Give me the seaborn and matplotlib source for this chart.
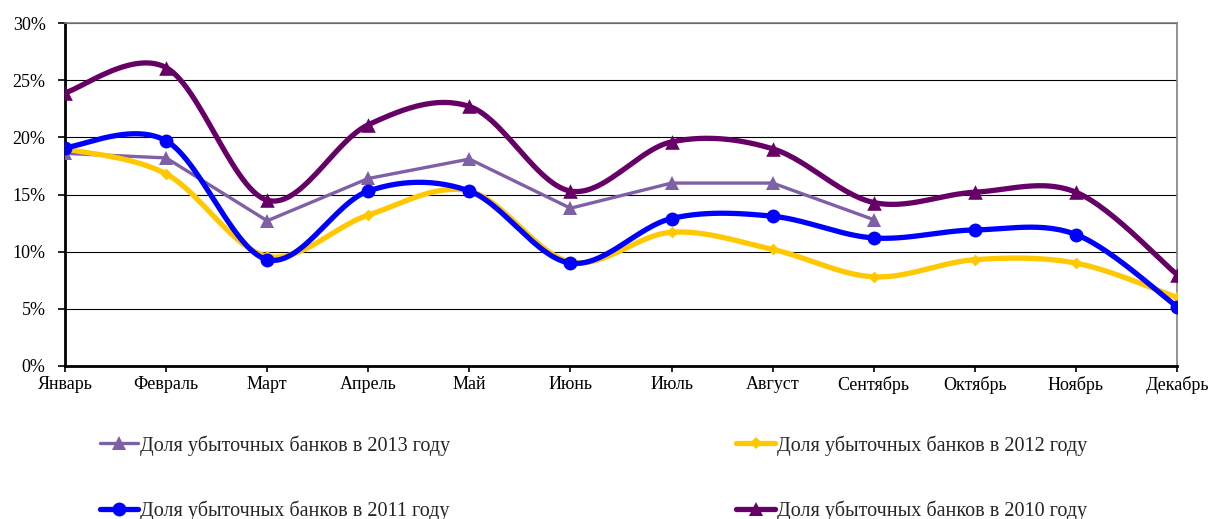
import numpy as np
import matplotlib
matplotlib.use("Agg")
import matplotlib.pyplot as plt
from matplotlib.lines import Line2D
from matplotlib.ticker import PercentFormatter
import seaborn as sns
import pandas as pd

# Months of the year
months = ["Январь", "Февраль", "Март", "Апрель", "Май", "Июнь", "Июль",
          "Август", "Сентябрь", "Октябрь", "Ноябрь", "Декабрь"]

# Share of loss-making banks, % by month
share_2013 = [18.6, 18.2, 12.7, 16.4, 18.1, 13.8, 16.0, 16.0, 12.8]
share_2012 = [19.0, 16.8, 9.6, 13.2, 15.3, 9.1, 11.7, 10.2, 7.8, 9.3, 9.0, 6.0]
share_2011 = [19.1, 19.7, 9.3, 15.3, 15.3, 9.0, 12.9, 13.1, 11.2, 11.9, 11.5, 5.2]
share_2010 = [23.9, 26.1, 14.5, 21.1, 22.7, 15.3, 19.6, 19.0, 14.3, 15.2, 15.2, 8.0]

labels = {
    "2013": "Доля убыточных банков в 2013 году",
    "2012": "Доля убыточных банков в 2012 году",
    "2011": "Доля убыточных банков в 2011 году",
    "2010": "Доля убыточных банков в 2010 году",
}

sns.set_theme(style="white")
plt.rcParams["font.family"] = ["Liberation Serif", "DejaVu Serif"]
plt.rcParams["font.size"] = 13


def smooth_curve(y, steps=30):
    """Cubic Bezier smoothing through every point (spreadsheet-style)."""
    y = np.asarray(y, dtype=float)
    x = np.arange(len(y), dtype=float)
    pts = np.column_stack([x, y])
    ext = np.vstack([pts[0], pts, pts[-1]])
    out = []
    t = np.linspace(0, 1, steps)[:, None]
    for i in range(len(pts) - 1):
        p0 = ext[i + 1]
        p3 = ext[i + 2]
        c1 = p0 + (ext[i + 2] - ext[i]) / 6.0
        c2 = p3 - (ext[i + 3] - ext[i + 1]) / 6.0
        seg = ((1 - t) ** 3) * p0 + 3 * ((1 - t) ** 2) * t * c1 \
            + 3 * (1 - t) * t ** 2 * c2 + t ** 3 * p3
        out.append(seg if i == 0 else seg[1:])
    seg = np.vstack(out)
    return seg[:, 0], seg[:, 1]


fig = plt.figure(figsize=(12.11, 5.19), dpi=100)
ax = fig.add_axes([65 / 1211, 1 - 366 / 519, (1177 - 65) / 1211, (366 - 23) / 519])

c2013, c2012, c2011, c2010 = "#7F5FA6", "#FFC800", "#0000FF", "#660066"

# 2013: straight segments
df13 = pd.DataFrame({"m": np.arange(len(share_2013)), "v": share_2013})
sns.lineplot(data=df13, x="m", y="v", ax=ax, color=c2013, lw=2.4,
             marker="^", markersize=10, markeredgewidth=0, zorder=3)

# 2012, 2011, 2010: smoothed curves with markers
for vals, col, mk, ms, z in [(share_2012, c2012, "D", 6, 4),
                              (share_2011, c2011, "o", 10, 5),
                              (share_2010, c2010, "^", 10.5, 6)]:
    xs, ys = smooth_curve(vals)
    ax.plot(xs, ys, color=col, lw=3.8, solid_capstyle="round", zorder=z)
    dfm = pd.DataFrame({"m": np.arange(len(vals)), "v": vals})
    sns.scatterplot(data=dfm, x="m", y="v", ax=ax, color=col, marker=mk,
                    s=ms ** 2, linewidth=0, zorder=z + 0.5)

ax.set_xlim(0, 11)
ax.set_ylim(0, 30)
ax.set_yticks(np.arange(0, 31, 5))
ax.yaxis.set_major_formatter(PercentFormatter(decimals=0))
ax.set_xticks(np.arange(len(months)))
ax.set_xticklabels(months)
ax.set_xlabel("")
ax.set_ylabel("")
ax.grid(axis="y", color="black", lw=0.8)
ax.grid(axis="x", visible=False)
ax.set_axisbelow(True)

for side in ["top", "right"]:
    ax.spines[side].set_color("#808080")
    ax.spines[side].set_linewidth(1.2)
for side in ["left", "bottom"]:
    ax.spines[side].set_color("black")
    ax.spines[side].set_linewidth(2)

ax.tick_params(axis="both", which="major", direction="out", color="black",
               labelsize=13, labelcolor="black")
ax.tick_params(axis="y", length=5, width=1.2, pad=9, left=True)
ax.tick_params(axis="x", length=4, width=1.2, pad=3, bottom=True)

handles = [
    Line2D([], [], color=c2013, lw=2.4, marker="^", markersize=10, markeredgewidth=0),
    Line2D([], [], color=c2011, lw=3.8, marker="o", markersize=10, markeredgewidth=0),
    Line2D([], [], color=c2012, lw=3.8, marker="D", markersize=6, markeredgewidth=0),
    Line2D([], [], color=c2010, lw=3.8, marker="^", markersize=10.5, markeredgewidth=0),
]
names = [labels["2013"], labels["2011"], labels["2012"], labels["2010"]]
fig.legend(handles, names, loc="upper left", bbox_to_anchor=(100 / 1211, 1 - 435 / 519),
           ncol=2, frameon=False, fontsize=14.5, handlelength=1.9, handletextpad=0.1,
           columnspacing=14.2, labelspacing=2.24, borderpad=0, borderaxespad=0)

fig.savefig("out.png", dpi=100)
